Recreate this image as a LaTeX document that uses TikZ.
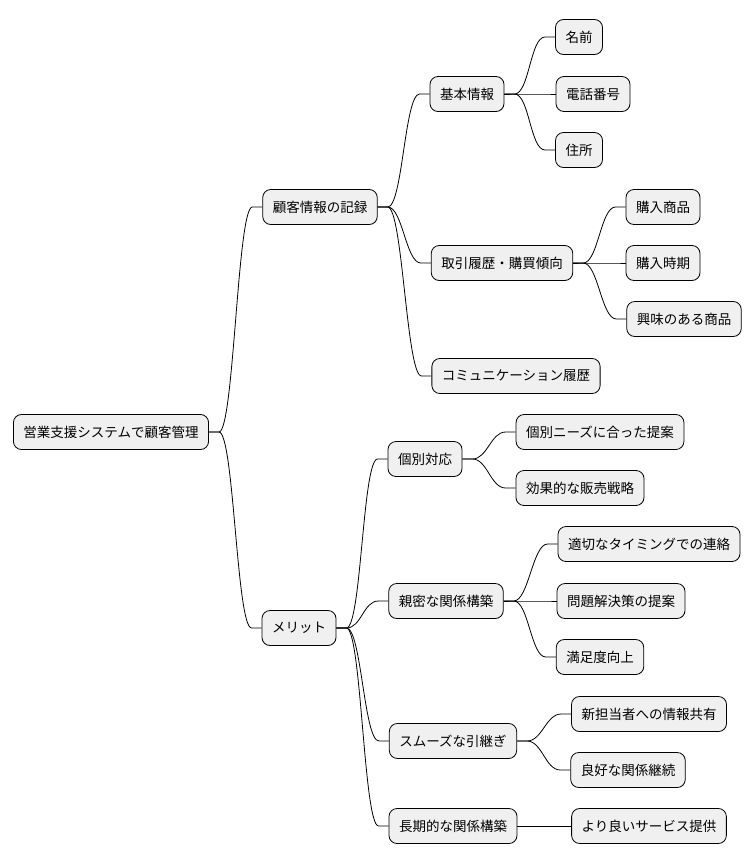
\documentclass[tikz,border=0pt]{standalone}
\usepackage{fontspec}
\setmainfont{Noto Sans CJK JP}
\usetikzlibrary{calc}
\begin{document}
\begin{tikzpicture}[x=1pt,y=-1pt,
  n/.style={draw=black,line width=0.8pt,fill=black!6,rounded corners=8pt,minimum height=35pt,inner xsep=10pt,inner ysep=0pt,font=\fontsize{13.5}{15}\selectfont,anchor=center},
  c/.style={line width=0.8pt}]
\useasboundingbox (0,0) rectangle (754,865);
\node[n] (root) at (111,432) {営業支援システムで顧客管理};
\node[n] (a) at (320,207) {顧客情報の記録};
\node[n] (a1) at (467,94) {基本情報};
\node[n] (a11) at (579,37) {名前};
\node[n] (a12) at (593,94) {電話番号};
\node[n] (a13) at (579,150) {住所};
\node[n] (a2) at (502,263) {取引履歴・購買傾向};
\node[n] (a21) at (663,207) {購入商品};
\node[n] (a22) at (663,263) {購入時期};
\node[n] (a23) at (684,319) {興味のある商品};
\node[n] (a3) at (516,376) {コミュニケーション履歴};
\node[n] (b) at (299,628) {メリット};
\node[n] (b1) at (425,459) {個別対応};
\node[n] (b11) at (600,432) {個別ニーズに合った提案};
\node[n] (b12) at (580,488) {効果的な販売戦略};
\node[n] (b2) at (446,601) {親密な関係構築};
\node[n] (b21) at (649,544) {適切なタイミングでの連絡};
\node[n] (b22) at (621,601) {問題解決策の提案};
\node[n] (b23) at (600,657) {満足度向上};
\node[n] (b3) at (453,741) {スムーズな引継ぎ};
\node[n] (b31) at (649,714) {新担当者への情報共有};
\node[n] (b32) at (628,770) {良好な関係継続};
\node[n] (b4) at (453,826) {長期的な関係構築};
\node[n] (b41) at (649,826) {より良いサービス提供};
\foreach \p/\q in {root/a,root/b,a/a1,a/a2,a/a3,a1/a11,a1/a12,a1/a13,a2/a21,a2/a22,a2/a23,b/b1,b/b2,b/b3,b/b4,b1/b11,b1/b12,b2/b21,b2/b22,b2/b23,b3/b31,b3/b32,b4/b41}{
  \draw[c] (\p.east) -- ++(10,0) .. controls +(15,0) and ($(\q.west)+(-25,0)$) .. ($(\q.west)+(-10,0)$) -- (\q.west);
}
\end{tikzpicture}
\end{document}
